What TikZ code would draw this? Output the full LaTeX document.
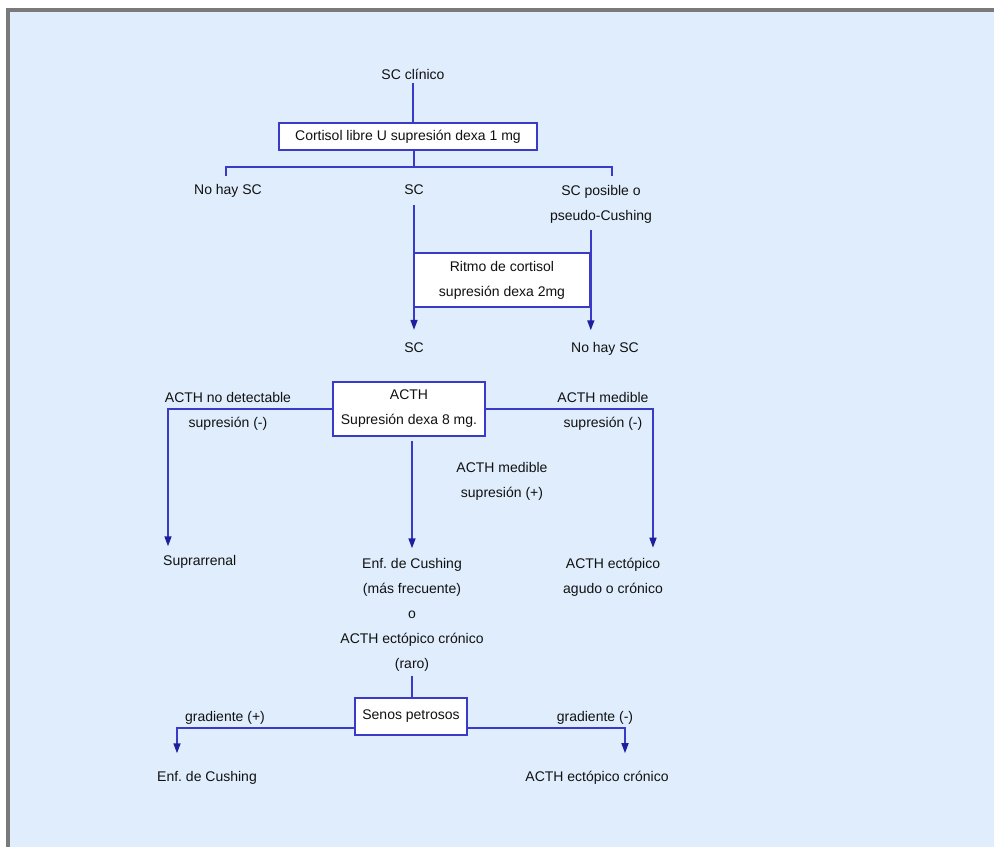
\documentclass[tikz,border=0pt]{standalone}
\usepackage{fontspec}
\setmainfont{Liberation Sans}
\usetikzlibrary{arrows.meta}
\definecolor{bgblue}{HTML}{DFEDFC}
\definecolor{lineblue}{HTML}{3A3AC8}
\definecolor{tipblue}{HTML}{1F1F9E}
\definecolor{framegray}{HTML}{7A7A7A}
\definecolor{txt}{HTML}{111111}
\tikzset{
  lbl/.style={align=center, inner sep=4pt, text=txt, font=\fontsize{14}{25}\selectfont},
  testbox/.style={lbl, draw=lineblue, line width=1.6pt, fill=white, inner sep=0pt},
  conn/.style={draw=lineblue, line width=1.5pt},
  arr/.style={conn, -{Triangle[length=10pt,width=7pt,color=tipblue]}},
}
\begin{document}
\begin{tikzpicture}[x=1pt,y=-1pt]
  \useasboundingbox (0,0) rectangle (994,847);
  \fill[white] (0,0) rectangle (994,847);
  \fill[bgblue] (8,10) rectangle (994,847);
  \draw[framegray, line width=4pt] (8,847) -- (8,10) -- (994,10);

  % first step
  \node[lbl] (clin) at (413,74) {SC clínico};
  \node[testbox, minimum width=258pt, minimum height=27pt] (cort) at (408,136.5) {Cortisol libre U supresión dexa 1 mg};
  \node[lbl] (nohay1) at (228,191) {No hay SC};
  \node[lbl] (sc1) at (414,190) {SC};
  \node[lbl] (posib) at (601,204) {SC posible o\\pseudo-Cushing};
  \node[testbox, minimum width=176pt, minimum height=54pt] (ritmo) at (502,280) {Ritmo de cortisol\\supresión dexa 2mg};
  \node[lbl] (sc2) at (414,348) {SC};
  \node[lbl] (nohay2) at (605,349) {No hay SC};

  % ACTH step
  \node[testbox, minimum width=152pt, minimum height=54pt] (acth) at (409,409) {ACTH\\Supresión dexa 8 mg.};
  \node[lbl] (ndet) at (228,411) {ACTH no detectable\\supresión (-)};
  \node[lbl] (medneg) at (603,411) {ACTH medible\\supresión (-)};
  \node[lbl] (medpos) at (502,481) {ACTH medible\\supresión (+)};
  \node[lbl, anchor=west] (supra) at (159,562) {Suprarrenal};
  \node[lbl] (enf) at (412,615) {Enf.\ de Cushing\\(más frecuente)\\o\\ACTH ectópico crónico\\(raro)};
  \node[lbl] (ecto) at (613,577) {ACTH ectópico\\agudo o crónico};

  % petrosal sinus step
  \node[testbox, minimum width=112pt, minimum height=37pt] (senos) at (411,716.5) {Senos petrosos};
  \node[lbl] (gpos) at (225,718) {gradiente (+)};
  \node[lbl] (gneg) at (595,718) {gradiente (-)};
  \node[lbl] (cush) at (207,778) {Enf.\ de Cushing};
  \node[lbl] (ectocr) at (597,778) {ACTH ectópico crónico};

  \coordinate (j1) at (414,167);
  \coordinate (j1l) at (226,167);
  \coordinate (j1r) at (612,167);
  \coordinate (t1l) at (226,176);
  \coordinate (t1r) at (612,176);
  \coordinate (cl) at (168,408);
  \coordinate (cr) at (653,408);
  \coordinate (gl) at (177,728);
  \coordinate (gr) at (625,728);

  \draw[conn] (clin) -- (clin |- cort.north);
  \draw[conn] (cort.south -| j1) -- (j1);
  \draw[conn] (t1l) -- (j1l) -- (j1r) -- (t1r);
  \draw[arr, shorten <=6pt, shorten >=9pt] (sc1) -- (sc2);
  \draw[arr, shorten <=3pt, shorten >=8pt] (posib.south -| ritmo.east) -- (nohay2.north -| ritmo.east);

  \draw[arr, shorten >=5pt] (acth.west) -| (supra.north -| cl);
  \draw[arr, shorten >=6pt] (acth.east) -| (ecto.north -| cr);
  \draw[arr, shorten <=4pt, shorten >=6pt] (acth.south -| enf.north) -- (enf.north);

  \draw[conn] (enf.south) -- (enf.south |- senos.north);
  \draw[arr, shorten >=14pt] (senos.west |- gl) -| (cush.north -| gl);
  \draw[arr, shorten >=14pt] (senos.east |- gr) -| (ectocr.north -| gr);
\end{tikzpicture}
\end{document}
